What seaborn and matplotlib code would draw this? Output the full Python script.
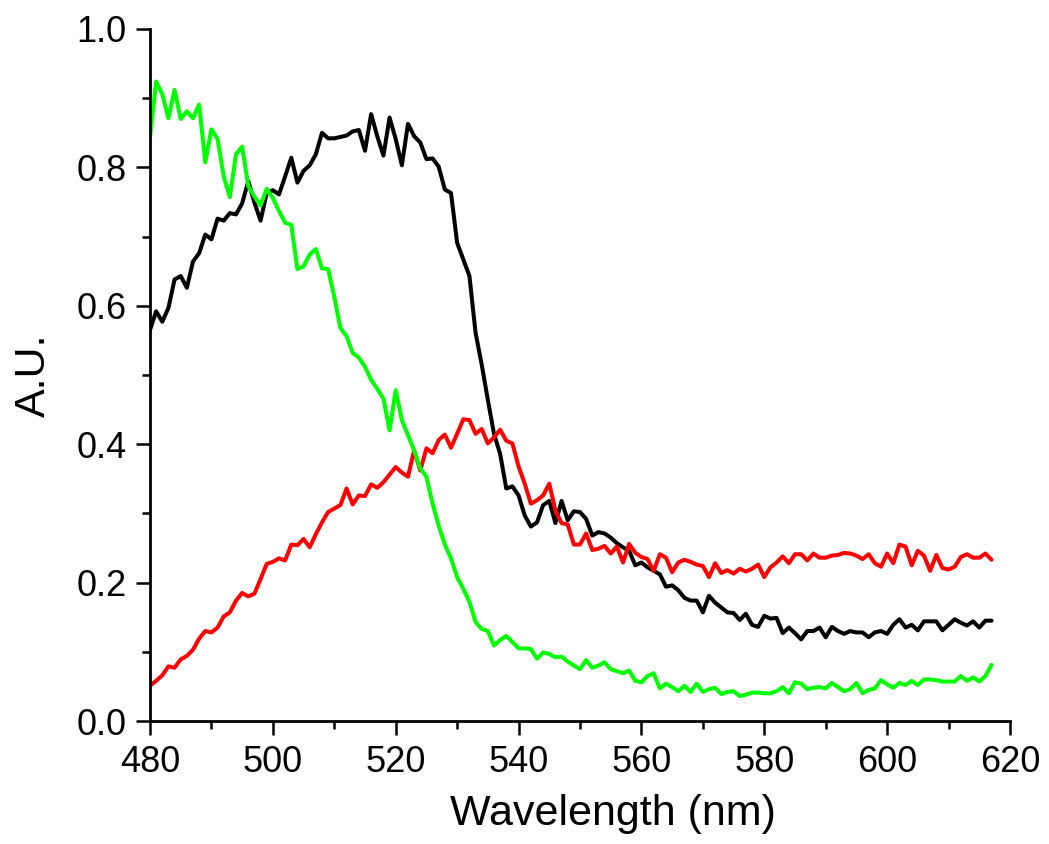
import numpy as np
import pandas as pd
import seaborn as sns
import matplotlib.ticker as mtick

from matplotlib import pyplot as plt

# spectra, 1 nm steps from 480 to 617 nm
wavelength = list(range(480, 618))

black_vals = [0.565, 0.592, 0.577, 0.597, 0.638, 0.643, 0.626, 0.664, 0.676, 0.703,
              0.696, 0.726, 0.723, 0.734, 0.732, 0.748, 0.780, 0.749, 0.723, 0.763,
              0.767, 0.761, 0.787, 0.814, 0.778, 0.795, 0.803, 0.819, 0.850, 0.842,
              0.842, 0.844, 0.846, 0.852, 0.854, 0.824, 0.877, 0.845, 0.817, 0.872,
              0.841, 0.803, 0.863, 0.845, 0.836, 0.812, 0.813, 0.801, 0.768, 0.763,
              0.691, 0.667, 0.643, 0.561, 0.515, 0.464, 0.415, 0.386, 0.336, 0.339,
              0.326, 0.297, 0.281, 0.287, 0.312, 0.318, 0.286, 0.318, 0.290, 0.303,
              0.302, 0.292, 0.268, 0.273, 0.271, 0.265, 0.257, 0.251, 0.246, 0.225,
              0.229, 0.222, 0.217, 0.212, 0.194, 0.196, 0.189, 0.178, 0.174, 0.174,
              0.157, 0.181, 0.171, 0.164, 0.157, 0.156, 0.146, 0.155, 0.139, 0.136,
              0.152, 0.148, 0.149, 0.127, 0.135, 0.127, 0.118, 0.130, 0.130, 0.135,
              0.121, 0.136, 0.130, 0.126, 0.130, 0.128, 0.128, 0.121, 0.128, 0.130,
              0.126, 0.139, 0.147, 0.135, 0.139, 0.131, 0.144, 0.144, 0.144, 0.131,
              0.139, 0.147, 0.142, 0.138, 0.144, 0.135, 0.145, 0.145]

red_vals = [0.051, 0.058, 0.066, 0.079, 0.077, 0.089, 0.094, 0.103, 0.119, 0.130,
            0.128, 0.135, 0.151, 0.157, 0.174, 0.185, 0.180, 0.184, 0.205, 0.227,
            0.230, 0.235, 0.232, 0.255, 0.254, 0.263, 0.251, 0.270, 0.287, 0.302,
            0.307, 0.312, 0.336, 0.313, 0.326, 0.325, 0.342, 0.337, 0.345, 0.356,
            0.367, 0.359, 0.353, 0.391, 0.362, 0.394, 0.387, 0.406, 0.414, 0.395,
            0.415, 0.436, 0.435, 0.415, 0.422, 0.401, 0.410, 0.421, 0.405, 0.401,
            0.368, 0.343, 0.314, 0.319, 0.326, 0.343, 0.304, 0.286, 0.284, 0.255,
            0.255, 0.271, 0.247, 0.249, 0.253, 0.242, 0.252, 0.229, 0.256, 0.243,
            0.237, 0.234, 0.217, 0.241, 0.236, 0.215, 0.229, 0.233, 0.230, 0.226,
            0.224, 0.208, 0.228, 0.214, 0.218, 0.213, 0.220, 0.216, 0.220, 0.226,
            0.208, 0.222, 0.229, 0.238, 0.228, 0.241, 0.241, 0.232, 0.242, 0.236,
            0.236, 0.239, 0.240, 0.243, 0.242, 0.239, 0.234, 0.241, 0.228, 0.223,
            0.242, 0.228, 0.255, 0.252, 0.225, 0.246, 0.239, 0.217, 0.240, 0.221,
            0.219, 0.223, 0.237, 0.241, 0.236, 0.236, 0.242, 0.233]

green_vals = [0.843, 0.924, 0.906, 0.871, 0.912, 0.870, 0.881, 0.871, 0.891, 0.807,
              0.855, 0.841, 0.787, 0.757, 0.819, 0.830, 0.773, 0.758, 0.745, 0.769,
              0.756, 0.737, 0.720, 0.717, 0.653, 0.657, 0.674, 0.682, 0.654, 0.653,
              0.613, 0.568, 0.556, 0.532, 0.525, 0.512, 0.493, 0.480, 0.466, 0.420,
              0.478, 0.435, 0.413, 0.391, 0.365, 0.353, 0.314, 0.282, 0.255, 0.235,
              0.208, 0.191, 0.172, 0.143, 0.133, 0.130, 0.109, 0.117, 0.123, 0.114,
              0.105, 0.105, 0.104, 0.090, 0.099, 0.097, 0.092, 0.093, 0.086, 0.080,
              0.075, 0.088, 0.077, 0.080, 0.085, 0.075, 0.072, 0.069, 0.073, 0.058,
              0.056, 0.065, 0.069, 0.047, 0.054, 0.049, 0.043, 0.051, 0.042, 0.054,
              0.042, 0.046, 0.048, 0.039, 0.042, 0.043, 0.036, 0.038, 0.041, 0.041,
              0.040, 0.040, 0.043, 0.049, 0.040, 0.056, 0.054, 0.046, 0.048, 0.049,
              0.047, 0.055, 0.049, 0.043, 0.046, 0.055, 0.040, 0.045, 0.047, 0.059,
              0.053, 0.048, 0.055, 0.052, 0.058, 0.052, 0.060, 0.060, 0.059, 0.057,
              0.057, 0.057, 0.065, 0.058, 0.063, 0.057, 0.065, 0.081]

series_names = ['black', 'red', 'green']
colours = {'black': '#000000', 'red': '#ff0000', 'green': '#00ff00'}

df = pd.concat([
    pd.DataFrame({'Wavelength': wavelength, 'AU': black_vals, 'series': 'black'}),
    pd.DataFrame({'Wavelength': wavelength, 'AU': red_vals, 'series': 'red'}),
    pd.DataFrame({'Wavelength': wavelength, 'AU': green_vals, 'series': 'green'}),
])

sns.set_style('ticks')
plt.rcParams['font.family'] = ['Liberation Sans', 'DejaVu Sans']

fig = plt.figure(figsize=(10.49, 8.44), dpi=100)
ax = fig.add_axes([0.14299, 0.14573, 0.81983, 0.81991])

sns.lineplot(data=df, x='Wavelength', y='AU', hue='series', hue_order=series_names,
             palette=colours, linewidth=2.9, legend=False, ax=ax)

ax.set_xlim(480, 620)
ax.set_ylim(0, 1.0)
ax.xaxis.set_major_locator(mtick.MultipleLocator(20))
ax.xaxis.set_minor_locator(mtick.MultipleLocator(10))
ax.yaxis.set_major_locator(mtick.MultipleLocator(0.2))
ax.yaxis.set_minor_locator(mtick.MultipleLocator(0.1))
ax.yaxis.set_major_formatter(mtick.FormatStrFormatter('%.1f'))

sns.despine(ax=ax)
for sp in ['left', 'bottom']:
    ax.spines[sp].set_linewidth(2)
    ax.spines[sp].set_color('black')

ax.tick_params(which='major', direction='out', length=10, width=1.8, color='black',
               labelsize=26, pad=7, labelcolor='black')
ax.tick_params(which='minor', direction='out', length=5.5, width=1.8, color='black')

ax.set_xlabel('Wavelength (nm)', fontsize=31, color='black')
ax.set_ylabel('A.U.', fontsize=31, color='black')
ax.xaxis.set_label_coords(0.538, -0.105)
ax.yaxis.set_label_coords(-0.112, 0.5)

plt.savefig('out.png', dpi=100)
plt.close()
